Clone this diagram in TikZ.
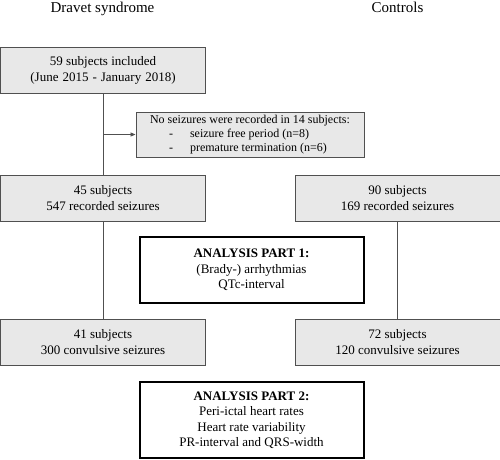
\documentclass[tikz,border=0pt]{standalone}
\usepackage{fontspec}
\setmainfont{Liberation Serif}
\usetikzlibrary{arrows.meta}
\definecolor{boxfill}{HTML}{E8E8E8}
\definecolor{boxline}{HTML}{505050}
\newcommand{\wsp}{\hspace{4pt}}
\begin{document}
\begin{tikzpicture}[x=1pt,y=-1pt,
  graybox/.style={draw=boxline,line width=0.9pt,fill=boxfill,align=center,
    minimum width=205pt,minimum height=46pt,inner sep=0pt,
    font=\fontsize{13}{16}\selectfont},
  anabox/.style={draw=black,line width=2pt,fill=white,align=center,
    minimum width=224pt,inner sep=0pt,
    font=\fontsize{13}{15.5}\selectfont},
  title/.style={anchor=base,font=\fontsize{15}{18}\selectfont},
  conn/.style={draw=boxline,line width=0.8pt}]
\useasboundingbox (0,0) rectangle (500,459);
\node[title] (t1) at (102.5,12.5) {Dravet syndrome};
\node[title] (t2) at (397.5,12) {Controls};
\node[graybox] (b1) at (103,70) {59 subjects included\\(June\wsp 2015\wsp -\wsp January\wsp 2018)};
\node[graybox,minimum width=228pt,minimum height=45pt,align=left,
  font=\fontsize{12}{14}\selectfont,inner xsep=7pt] (ex) at (250,134.5)
  {No seizures were recorded in 14 subjects:\\
   \hspace*{19pt}\makebox[21pt][l]{-}seizure free period (n=8)\\
   \hspace*{19pt}\makebox[21pt][l]{-}premature termination (n=6)};
\node[graybox] (b45) at (103,198) {45 subjects\\547 recorded seizures};
\node[graybox] (b90) at (397.5,198) {90 subjects\\169 recorded seizures};
\node[anabox,minimum height=66pt] (a1) at (251.5,270)
  {\textbf{ANALYSIS PART 1:}\\(Brady-) arrhythmias\\QTc-interval};
\node[graybox] (b41) at (103,342) {41 subjects\\300 convulsive seizures};
\node[graybox] (b72) at (397.5,342) {72 subjects\\120 convulsive seizures};
\node[anabox,minimum height=76pt] (a2) at (251.5,420)
  {\textbf{ANALYSIS PART 2:}\\Peri-ictal heart rates\\Heart rate variability\\PR-interval and QRS-width};
\draw[conn] (b1.south) -- (b45.north);
\draw[conn,-{Triangle[length=5pt,width=4pt]}] (b1.south |- ex.west) -- (ex.west);
\draw[conn] (b45.south) -- (b41.north);
\draw[conn] (b90.south) -- (b72.north);
\end{tikzpicture}
\end{document}
